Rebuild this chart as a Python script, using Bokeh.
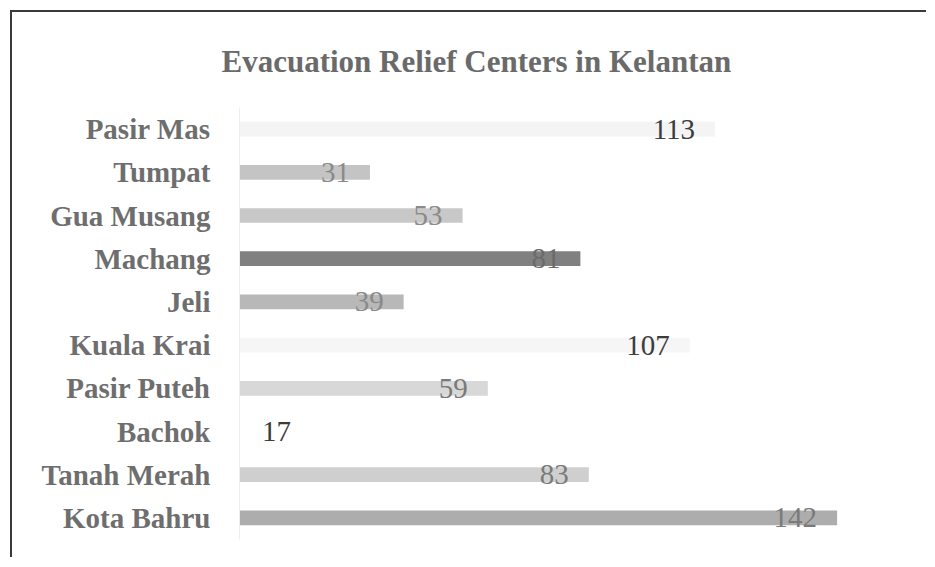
from bokeh.plotting import figure
from bokeh.models import ColumnDataSource, FactorRange, Range1d, LabelSet, Title
from bokeh.embed import file_html
from bokeh.resources import INLINE

# Data (top to bottom as in the chart)
districts = ["Pasir Mas", "Tumpat", "Gua Musang", "Machang", "Jeli",
             "Kuala Krai", "Pasir Puteh", "Bachok", "Tanah Merah", "Kota Bahru"]
centers = [113, 31, 53, 81, 39, 107, 59, 17, 83, 142]

# Styles (per bar, same order)
bar_colors = ["#f4f4f4", "#c4c4c4", "#c8c8c8", "#808080", "#b8b8b8",
              "#f6f6f6", "#d8d8d8", "#ffffff", "#cfcfcf", "#adadad"]
label_colors = ["#3c3c3c", "#8a8a8a", "#8a8a8a", "#6a6a6a", "#8a8a8a",
                "#3c3c3c", "#7a7a7a", "#3c3c3c", "#7a7a7a", "#7a7a7a"]

src = ColumnDataSource(dict(
    district=districts,
    value=centers,
    label=[str(v) for v in centers],
    color=bar_colors,
    lcolor=label_colors,
))

p = figure(
    y_range=FactorRange(factors=list(reversed(districts))),
    x_range=Range1d(0, 163),
    frame_width=686, frame_height=432,
    min_border_left=227, min_border_right=1,
    min_border_top=95, min_border_bottom=18,
    output_backend="svg", toolbar_location=None,
    background_fill_color="white", border_fill_color="white",
)
p.margin = (10, 0, 0, 10)
p.styles = {"border-left": "2px solid #3a3a3a", "border-top": "2px solid #3a3a3a"}

p.hbar(y="district", right="value", left=0, height=0.34,
       fill_color="color", line_color=None, source=src)

labels = LabelSet(x="value", y="district", text="label", source=src,
                  text_align="right", text_baseline="middle", x_offset=-20,
                  text_font="Liberation Serif", text_font_size="29px",
                  text_color="lcolor")
p.add_layout(labels)

t = Title(text="Evacuation Relief Centers in Kelantan", align="left", offset=-18,
          text_font="Liberation Serif", text_font_style="bold",
          text_font_size="31px", text_color="#6a6a6a", standoff=58)
p.add_layout(t, "above")

p.xaxis.visible = False
p.xgrid.grid_line_color = None
p.ygrid.grid_line_color = None
p.outline_line_color = None

ya = p.yaxis[0]
ya.axis_line_color = "#eeeeee"
ya.major_tick_line_color = None
ya.minor_tick_line_color = None
ya.major_tick_out = 0
ya.major_tick_in = 0
ya.major_label_standoff = 29
ya.major_label_text_font = "Liberation Serif"
ya.major_label_text_font_style = "bold"
ya.major_label_text_font_size = "29px"
ya.major_label_text_color = "#6e6e6e"

open("out.html", "w").write(file_html(p, INLINE))
